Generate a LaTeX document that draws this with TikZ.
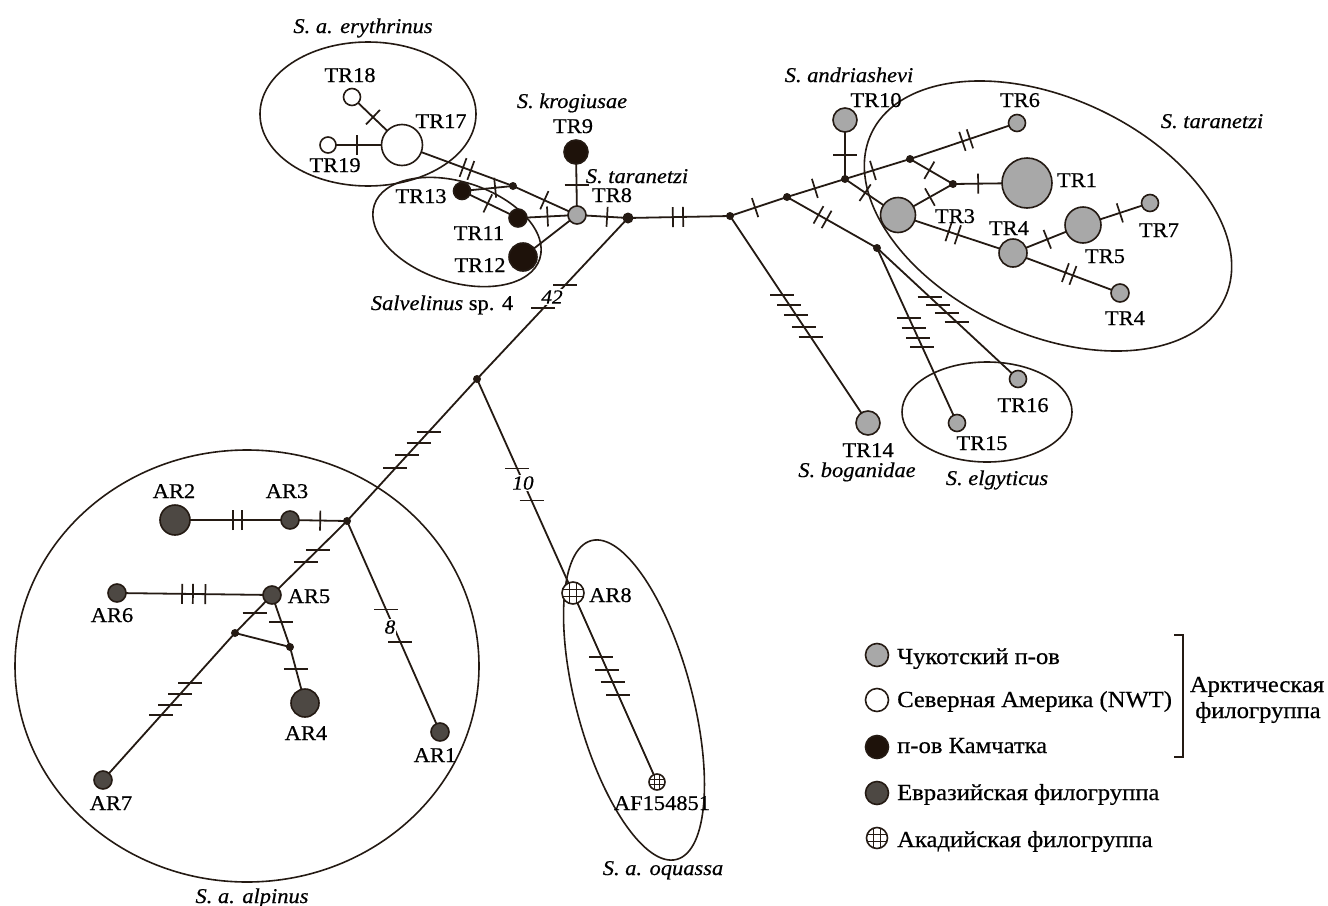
\documentclass[tikz,border=0pt]{standalone}
\usepackage{fontspec}
\setmainfont{Liberation Serif}[FakeStretch=1.07, FakeBold=0.5]
\usetikzlibrary{decorations.markings}
\pgfdeclarelayer{background}
\pgfsetlayers{background,main}
\definecolor{ink}{HTML}{241A13}
\definecolor{chuk}{HTML}{A8A8A8}
\definecolor{kam}{HTML}{1E120A}
\definecolor{eur}{HTML}{4D4843}
\tikzset{
  hap/.style={circle, draw=ink, line width=1.6pt, inner sep=0pt, minimum size=#1},
  ch/.style={hap=#1, fill=chuk},
  ka/.style={hap=#1, fill=kam},
  na/.style={hap=#1, fill=white},
  eu/.style={hap=#1, fill=eur},
  ac/.style={hap=#1, fill=white, path picture={
     \foreach \s in {-1,1}{
       \draw[ink, line width=1pt] ([xshift=\s*0.17*#1]path picture bounding box.north) -- ([xshift=\s*0.17*#1]path picture bounding box.south);
       \draw[ink, line width=1pt] ([yshift=\s*0.17*#1]path picture bounding box.west) -- ([yshift=\s*0.17*#1]path picture bounding box.east);
     }}},
  mv/.style={circle, fill=ink, inner sep=0pt, minimum size=#1},
  mv/.default=8pt,
  lab/.style={font=\fontsize{21}{21}\selectfont, text=black, inner sep=0pt, anchor=base},
  spl/.style={font=\fontsize{21}{21}\selectfont\itshape, text=black, inner sep=0pt, anchor=base},
  num/.style={font=\fontsize{20}{20}\selectfont\itshape, text=black, fill=white, inner sep=1pt},
  leg/.style={font=\fontsize{23}{23}\selectfont, text=black, inner sep=0pt, anchor=base west},
  edge/.style={draw=ink, line width=1.8pt},
  tk/.style={postaction={decorate, decoration={markings, mark=at position #1 with {\draw[ink, line width=1.7pt] (0pt,-10pt) -- (0pt,10pt);}}}},
  ht/.style={postaction={decorate, decoration={markings, mark=at position #1 with {\pgftransformresetnontranslations\draw[ink, line width=1.7pt] (-12pt,0pt) -- (12pt,0pt);}}}},
  grp/.style={draw=ink, line width=1.6pt},
}
\begin{document}
\begin{tikzpicture}[x=1pt,y=-1pt]
\useasboundingbox (0,0) rectangle (1328,905);
% ---------- haplotypes ----------
\node[na=17pt] (TR18) at (352,97) {};
\node[na=41pt] (TR17) at (402,145) {};
\node[na=16pt] (TR19) at (328,145) {};
\node[ka=17pt] (TR13) at (462,191) {};
\node[ka=18pt] (TR11) at (518,218) {};
\node[ka=28pt] (TR12) at (523,257) {};
\node[ka=24pt] (TR9) at (576,152) {};
\node[ch=18pt] (TR8) at (577,215) {};
\node[mv] (D1) at (513,186) {};
\node[mv=11pt] (J1) at (628,218) {};
\node[mv] (J2) at (730,216) {};
\node[mv] (J3) at (477,379) {};
\node[mv] (J4) at (347,521) {};
\node[mv] (J5) at (235,633) {};
\node[mv] (J6) at (290,647) {};
\node[mv] (J7) at (787,197) {};
\node[mv] (J8) at (845,179) {};
\node[mv] (J9) at (910,159) {};
\node[mv] (J10) at (953,184) {};
\node[mv] (J11) at (877,248) {};
\node[ch=24pt] (TR10) at (845,120) {};
\node[ch=17pt] (TR6) at (1017,123) {};
\node[ch=50pt] (TR1) at (1027,183) {};
\node[ch=35pt] (TR3) at (898,215) {};
\node[ch=28pt] (TR4a) at (1013,253) {};
\node[ch=36pt] (TR5) at (1083,225) {};
\node[ch=17pt] (TR7) at (1150,203) {};
\node[ch=18pt] (TR4b) at (1120,293) {};
\node[ch=24pt] (TR14) at (868,423) {};
\node[ch=17pt] (TR15) at (957,423) {};
\node[ch=17pt] (TR16) at (1018,379) {};
\node[eu=30pt] (AR2) at (175,520) {};
\node[eu=18pt] (AR3) at (290,520) {};
\node[eu=18pt] (AR5) at (272,595) {};
\node[eu=18pt] (AR6) at (117,593) {};
\node[eu=28pt] (AR4) at (305,703) {};
\node[eu=18pt] (AR1) at (440,732) {};
\node[eu=18pt] (AR7) at (103,780) {};
\node[ac=22pt] (AR8) at (573,593) {};
\node[ac=16pt] (AF) at (657,782) {};
% ---------- legend symbols ----------
\node[ch=23pt] (lg1) at (877,655) {};
\node[na=23pt] (lg2) at (877,700) {};
\node[ka=23pt] (lg3) at (877,747) {};
\node[eu=23pt] (lg4) at (877,793) {};
\node[ac=21pt] (lg5) at (877,838) {};
% ---------- number labels ----------
\node[num] (n42) at (552,297) {42};
\node[num] (n10) at (523,483) {10};
\node[num] (n8) at (390,627) {8};
% ---------- haplotype labels ----------
\node[lab] (l18) at (350,82) {TR18};
\node[lab] (l17) at (441,128) {TR17};
\node[lab] (l19) at (335,172) {TR19};
\node[lab] (l9) at (573,133) {TR9};
\node[lab] (l13) at (421,203) {TR13};
\node[lab] (l11) at (479,240) {TR11};
\node[lab] (l12) at (480,272) {TR12};
\node[lab] (l8) at (612,202) {TR8};
\node[lab] (l10) at (876,107) {TR10};
\node[lab] (l6) at (1020,107) {TR6};
\node[lab] (l1) at (1077,187) {TR1};
\node[lab] (l3) at (955,223) {TR3};
\node[lab] (l4a) at (1009,235) {TR4};
\node[lab] (l7) at (1159,237) {TR7};
\node[lab] (l5) at (1105,263) {TR5};
\node[lab] (l4b) at (1125,325) {TR4};
\node[lab] (l16) at (1023,412) {TR16};
\node[lab] (l15) at (982,450) {TR15};
\node[lab] (l14) at (868,457) {TR14};
\node[lab] (la2) at (174,498) {AR2};
\node[lab] (la3) at (287,498) {AR3};
\node[lab] (la5) at (309,603) {AR5};
\node[lab] (la6) at (112,622) {AR6};
\node[lab] (la4) at (306,740) {AR4};
\node[lab] (la1) at (435,762) {AR1};
\node[lab] (la7) at (111,810) {AR7};
\node[lab, anchor=base west] (la8) at (589,602) {AR8};
\node[lab] (laf) at (662,810) {AF154851};
% ---------- group labels ----------
\node[spl] (g1) at (363,33) {S. a. erythrinus};
\node[spl] (g2) at (572,108) {S. krogiusae};
\node[spl] (g3) at (637,183) {S. taranetzi};
\node[spl] (g4) at (442,310) {Salvelinus\/ \upshape sp. 4};
\node[spl] (g5) at (849,82) {S. andriashevi};
\node[spl] (g6) at (1212,128) {S. taranetzi};
\node[spl] (g7) at (857,477) {S. boganidae};
\node[spl] (g8) at (997,485) {S. elgyticus};
\node[spl] (g9) at (252,903) {S. a. alpinus};
\node[spl] (g10) at (663,875) {S. a. oquassa};
% ---------- legend text ----------
\node[leg] (t1) at (897,664) {Чукотский п-ов};
\node[leg] (t2) at (897,707) {Северная Америка (NWT)};
\node[leg] (t3) at (897,753) {п-ов Камчатка};
\node[leg] (t4) at (897,800) {Евразийская филогруппа};
\node[leg] (t5) at (897,847) {Акадийская филогруппа};
\node[leg, anchor=base] (arc1) at (1257,692) {Арктическая};
\node[leg, anchor=base] (arc2) at (1258,718) {филогруппа};
\coordinate (br1) at (1174,635);
\coordinate (br2) at (1174,757);
% ---------- background: ellipses and edges ----------
\begin{pgfonlayer}{background}
\fill[white] (0,0) rectangle (1328,905);
\draw[grp] (368,114) ellipse [x radius=108, y radius=72];
\draw[grp, rotate around={-18:(457,232)}] (457,232) ellipse [x radius=87, y radius=50];
\draw[grp] (247,666) ellipse [x radius=232, y radius=216];
\draw[grp, rotate around={15:(634,700)}] (634,700) ellipse [x radius=58, y radius=165];
\draw[grp, rotate around={-25:(1048,216)}] (1048,216) ellipse [x radius=195, y radius=118];
\draw[grp] (987,412) ellipse [x radius=85, y radius=50];
\draw[grp] (br1) -- ++(9,0) |- (br2);
% edges
\draw[edge, tk=0.42] (TR18.center) -- (TR17.center);
\draw[edge, tk=0.39] (TR19.center) -- (TR17.center);
\draw[edge, tk=0.55, tk=0.62] (TR17.center) -- (D1.center);
\draw[edge, tk=0.49] (D1.center) -- (TR8.center);
\draw[edge, tk=0.65] (TR13.center) -- (D1.center);
\draw[edge, tk=0.46] (TR13.center) -- (TR11.center);
\draw[edge, tk=0.5] (TR11.center) -- (TR8.center);
\draw[edge] (TR12.center) -- (TR8.center);
\draw[edge, ht=0.52] (TR9.center) -- (TR8.center);
\draw[edge, tk=0.59] (TR8.center) -- (J1.center);
\draw[edge, tk=0.44, tk=0.54] (J1.center) -- (J2.center);
\draw[edge, ht=0.416, ht=0.56] (J1.center) -- (J3.center);
\draw[edge, ht=0.373, ht=0.45, ht=0.535, ht=0.627] (J3.center) -- (J4.center);
\draw[edge, ht=0.418, ht=0.568] (J3.center) -- (AR8.center);
\draw[edge, ht=0.339, ht=0.407, ht=0.471, ht=0.54] (AR8.center) -- (AF.center);
\draw[edge, tk=0.504, tk=0.583] (AR2.center) -- (AR3.center);
\draw[edge, tk=0.53] (AR3.center) -- (J4.center);
\draw[edge, ht=0.39, ht=0.55] (J4.center) -- (AR5.center);
\draw[edge, tk=0.42, tk=0.49, tk=0.57] (AR6.center) -- (AR5.center);
\draw[edge, ht=0.47] (AR5.center) -- (J5.center);
\draw[edge, ht=0.52] (AR5.center) -- (J6.center);
\draw[edge] (J5.center) -- (J6.center);
\draw[edge, ht=0.39] (J6.center) -- (AR4.center);
\draw[edge, ht=0.34, ht=0.415, ht=0.49, ht=0.56] (J5.center) -- (AR7.center);
\draw[edge, ht=0.42, ht=0.573] (J4.center) -- (AR1.center);
\draw[edge, tk=0.44] (J2.center) -- (J7.center);
\draw[edge, tk=0.48] (J7.center) -- (J8.center);
\draw[edge, ht=0.41] (J8.center) -- (TR10.center);
\draw[edge, tk=0.43] (J8.center) -- (J9.center);
\draw[edge, tk=0.49, tk=0.56] (J9.center) -- (TR6.center);
\draw[edge, tk=0.45] (J9.center) -- (J10.center);
\draw[edge, tk=0.34] (J10.center) -- (TR1.center);
\draw[edge, tk=0.42] (J10.center) -- (TR3.center);
\draw[edge, tk=0.38] (J8.center) -- (TR3.center);
\draw[edge, tk=0.44, tk=0.52] (TR3.center) -- (TR4a.center);
\draw[edge, tk=0.49] (TR4a.center) -- (TR5.center);
\draw[edge, tk=0.55] (TR5.center) -- (TR7.center);
\draw[edge, tk=0.49, tk=0.56] (TR4a.center) -- (TR4b.center);
\draw[edge, tk=0.35, tk=0.44] (J7.center) -- (J11.center);
\draw[edge, ht=0.40, ht=0.457, ht=0.514, ht=0.566] (J11.center) -- (TR15.center);
\draw[edge, ht=0.374, ht=0.435, ht=0.496, ht=0.565] (J11.center) -- (TR16.center);
\draw[edge, ht=0.38, ht=0.43, ht=0.478, ht=0.536, ht=0.585] (J2.center) -- (TR14.center);
\end{pgfonlayer}
\end{tikzpicture}
\end{document}
